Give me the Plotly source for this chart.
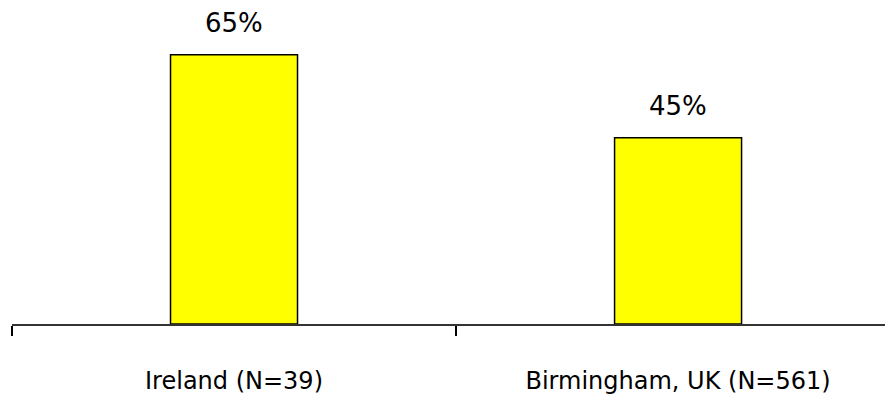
import plotly.graph_objects as go

categories = ["Ireland (N=39)", "Birmingham, UK (N=561)"]
values = [65, 45]
labels = ["65%", "45%"]

FONT = "Comic Sans MS, DejaVu Sans, sans-serif"

fig = go.Figure()
fig.add_trace(go.Bar(
    x=categories, y=values,
    marker=dict(color="#FFFF00", line=dict(color="black", width=1.5)),
    hoverinfo="skip",
))

for c, v, t in zip(categories, values, labels):
    fig.add_annotation(x=c, y=v, text=t, showarrow=False, yanchor="bottom",
                       yshift=16, borderpad=0,
                       font=dict(family=FONT, size=26, color="black"))

fig.update_layout(
    width=877, height=387,
    margin=dict(l=4, r=0, t=0, b=66.5),
    paper_bgcolor="white", plot_bgcolor="white",
    bargap=0.714,
    showlegend=False,
    xaxis=dict(
        type="category", range=[-0.5, 1.466],
        showline=True, linecolor="#333333", linewidth=1.5,
        ticks="outside", tickson="boundaries", ticklen=10, tickcolor="black", tickwidth=1.5,
        tickfont=dict(family=FONT, size=24, color="black"),
        ticklabelstandoff=34,
        showgrid=False, zeroline=False,
    ),
    yaxis=dict(range=[0, 76.3], visible=False, showgrid=False, zeroline=False),
)

fig.write_html("out.html")
